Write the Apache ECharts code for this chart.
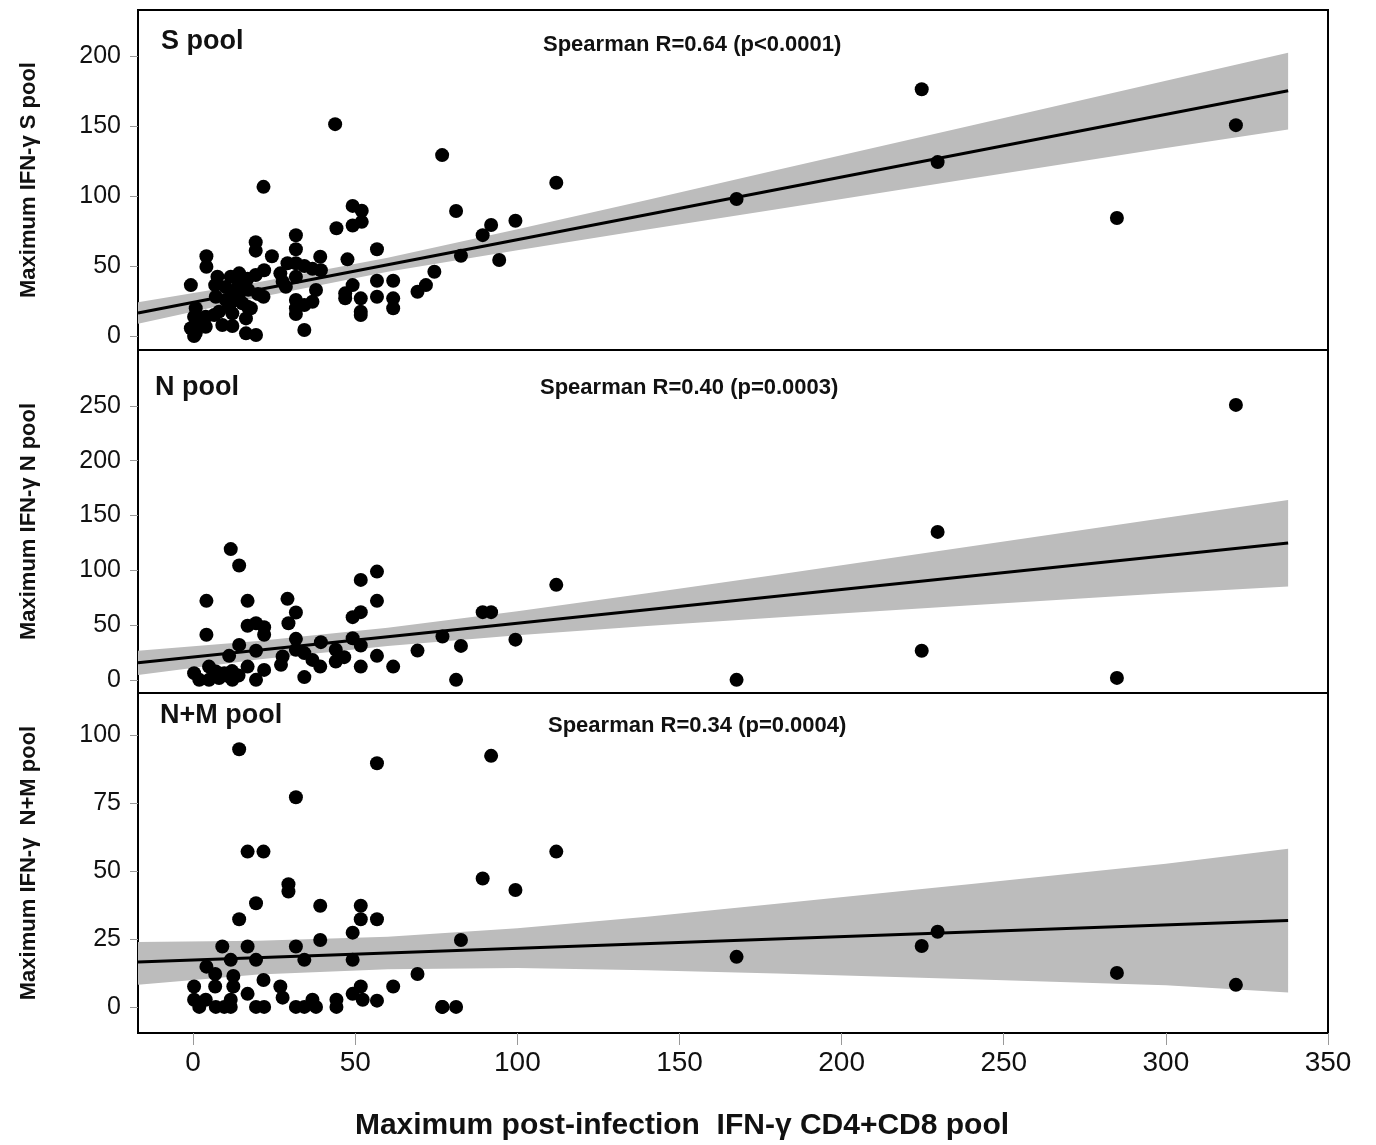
<!DOCTYPE html>
<html>
<head>
<meta charset="utf-8">
<script src="https://cdn.jsdelivr.net/npm/echarts@6/dist/echarts.min.js"></script>
<style>
  html, body { margin: 0; padding: 0; background: #fff; }
  #chart { width: 1376px; height: 1145px; }
</style>
</head>
<body>
<div id="chart"></div>
<script>
// x = max post-infection IFN-γ CD4+CD8 pool, y = max IFN-γ per pool
const sPool = [
  [21.7, 106.6], [49.2, 93], [52, 89.5], [49.2, 79], [52, 81.6], [44.2, 77], [31.7, 72], [19.3, 67],
  [19.3, 61], [31.7, 62], [56.7, 62], [4.1, 57], [4.1, 49.5], [24.3, 57], [39.2, 56.6], [47.6, 54.8],
  [29.1, 52], [31.7, 52], [34.3, 50], [36.8, 48], [39.4, 47], [21.9, 47], [19.3, 43.6], [16.8, 41],
  [14.2, 44.8], [11.6, 42.4], [7.5, 42.4], [6.8, 36.4], [26.9, 44.8], [27.6, 38.8], [28.6, 35.2], [31.7, 42.4],
  [-0.7, 36.4], [49.2, 36.4], [56.7, 39.5], [61.7, 39.5], [69.2, 31.6], [71.8, 36.4], [74.4, 45.9], [37.9, 32.9],
  [46.9, 30.5], [46.9, 26.9], [51.7, 26.9], [56.7, 28.1], [61.7, 26.9], [61.7, 19.8], [51.7, 17.4], [51.7, 15],
  [21.7, 28.1], [31.7, 25.7], [31.7, 19.8], [31.7, 15.7], [34.3, 22.1], [36.8, 24.5], [34.3, 4.3], [7, 28.1],
  [10.1, 25.7], [13.2, 25.7], [15.2, 23.4], [16.8, 20.9], [17.8, 19.8], [11.1, 20.9], [8, 17.4], [6.5, 15],
  [12.1, 16.2], [16.3, 12.6], [3.9, 13.8], [0.8, 19.8], [0.3, 13.8], [-0.7, 5.5], [0.8, 1.9], [1.9, 7.9],
  [3.9, 6.6], [9, 7.9], [12.1, 7.1], [16.3, 1.9], [19.4, 0.7], [0.3, 0], [12, 30], [14, 28], [17, 33],
  [10, 35], [14, 36], [20, 30], [76.8, 129.3], [112, 109.5], [81.1, 89.3], [91.9, 79.3], [89.3, 72.1],
  [99.4, 82.4], [82.6, 57.4], [94.4, 54.3], [43.8, 151.4], [224.7, 176.4], [229.6, 124.3], [167.6, 97.9],
  [284.9, 84.3], [321.6, 150.7]
];
const nPool = [
  [11.6, 119.3], [14.2, 104.3], [4.1, 72.1], [16.8, 72.1], [4.1, 41.1], [29.1, 73.9], [31.7, 61.4], [29.4, 51.7],
  [16.8, 49.3], [19.4, 51.7], [21.9, 48.1], [21.9, 41.1], [51.7, 91.2], [56.7, 98.8], [56.7, 72.1], [49.2, 57.2],
  [51.7, 61.8], [31.7, 37.4], [39.4, 34.4], [49.2, 38], [51.7, 31.3], [14.2, 31.9], [11.1, 21.9], [19.4, 26.5],
  [27.6, 21.3], [27.1, 13.7], [31.7, 27.4], [34.3, 24.4], [36.8, 18.2], [39.2, 12.1], [44, 27.4], [44, 16.7],
  [46.6, 20.7], [56.7, 21.9], [69.2, 26.7], [76.9, 39.5], [16.8, 12.1], [21.9, 9.1], [19.4, 0], [34.3, 2.5],
  [51.7, 12.1], [61.7, 12.1], [0.3, 6.1], [1.9, 0], [4.9, 12.1], [7, 7.6], [9.6, 6.1], [11.1, 3], [12.1, 0],
  [4.9, 0], [8, 1.6], [12, 8], [14, 4], [112, 86.7], [89.3, 61.8], [91.9, 61.8], [82.6, 31], [99.4, 36.7],
  [81.1, 0], [321.6, 250.9], [229.6, 135], [224.7, 26.5], [167.6, 0], [284.9, 1.8]
];
const nmPool = [
  [14.2, 94.7], [31.7, 77.1], [16.8, 57.1], [21.7, 57.1], [29.4, 45.1], [29.4, 42.4], [19.4, 38.1], [39.2, 37.2],
  [51.7, 37.2], [51.7, 32.2], [56.7, 32.2], [56.7, 89.6], [14.2, 32.2], [39.2, 24.6], [49.2, 27.3], [9, 22.2],
  [16.8, 22.2], [31.7, 22.2], [11.6, 17.3], [19.4, 17.3], [34.3, 17.3], [49.2, 17.3], [4.1, 14.8], [6.8, 12.1],
  [12.4, 11.4], [21.7, 9.9], [69.2, 12.1], [0.3, 7.5], [6.8, 7.5], [12.4, 7.5], [26.9, 7.5], [51.7, 7.5],
  [61.7, 7.5], [16.8, 4.8], [27.6, 3.4], [49.2, 4.8], [52.3, 2.6], [56.7, 2.3], [0.3, 2.6], [1.9, 0],
  [3.9, 2.6], [7, 0], [9.6, 0], [11.6, 2.6], [11.6, 0], [19.4, 0], [21.9, 0], [31.7, 0], [34.3, 0],
  [36.8, 2.6], [37.9, 0], [44.2, 2.6], [44.2, 0], [76.9, 0], [91.9, 92.3], [112, 57.1], [89.3, 47.2],
  [99.4, 43], [82.6, 24.6], [76.8, 0], [81.1, 0], [167.6, 18.4], [224.7, 22.4], [229.6, 27.6],
  [284.9, 12.5], [321.6, 8.1]
];

// fitted lines and confidence bands
const regX = [-17, 337.7];
const sRegY = [16.4, 175.3];
const nRegY = [15.5, 124.9];
const nmRegY = [16.5, 31.8];

const bandX = [-17, 20, 60, 100, 140, 180, 240, 300, 337.7];
const sUpper = [24.1, 38.5, 55.9, 76.3, 97.2, 118.6, 150.5, 182.4, 202.4];
const sLower = [8.7, 27.5, 45.9, 61.3, 76.2, 90.6, 112.5, 134.4, 147.6];
const nUpper = [26.5, 35.5, 47.6, 62.7, 79.1, 95.9, 122, 148, 164.2];
const nLower = [4.5, 18.5, 31, 40.7, 49.1, 56.9, 68, 79, 85.1];
const nmUpper = [23.9, 24.3, 25.8, 28.9, 33.1, 37.9, 45.2, 52.6, 58.1];
const nmLower = [8.1, 11.9, 13.8, 14.3, 13.5, 12.3, 10.2, 8, 5.3];

const xTicks = [0, 50, 100, 150, 200, 250, 300, 350];
const sTicks = [0, 50, 100, 150, 200];
const nTicks = [0, 50, 100, 150, 200, 250];
const nmTicks = [0, 25, 50, 75, 100];

const panelNames = ['S pool', 'N pool', 'N+M pool'];
const statTexts = ['Spearman R=0.64 (p<0.0001)', 'Spearman R=0.40 (p=0.0003)', 'Spearman R=0.34 (p=0.0004)'];
const yNames = ['Maximum IFN-γ S pool', 'Maximum IFN-γ N pool', 'Maximum IFN-γ  N+M pool'];
const xName = 'Maximum post-infection  IFN-γ CD4+CD8 pool';

const narrow = '"Liberation Sans Narrow", "Arial Narrow", "Liberation Sans", Arial, sans-serif';
const plain = '"Liberation Sans", Arial, sans-serif';

const chart = echarts.init(document.getElementById('chart'))

const grids = [
  { left: 138, right: 48, top: 10, height: 340 },
  { left: 138, right: 48, top: 350, height: 343 },
  { left: 138, right: 48, top: 693, height: 340 },
].map(g => ({
  ...g, show: true, borderColor: '#000', borderWidth: 2,
  backgroundColor: 'transparent', outerBoundsMode: 'none', containLabel: false
}))

function xAxisFor(i) {
  const last = i === 2
  return {
    type: 'value', gridIndex: i, min: -17, max: 350,
    position: 'bottom',
    splitLine: { show: false },
    axisLine: { show: false, onZero: false },
    axisTick: { show: last, length: 12, customValues: xTicks, lineStyle: { color: '#999' } },
    axisLabel: {
      show: last, customValues: xTicks, margin: 16,
      fontFamily: narrow, fontSize: 28, color: '#111'
    }
  }
}

function yAxisFor(i, min, max, ticks) {
  return {
    type: 'value', gridIndex: i, min, max,
    position: 'left',
    splitLine: { show: false },
    axisLine: { show: false, onZero: false },
    axisTick: { show: true, length: 8, customValues: ticks, lineStyle: { color: '#999' } },
    axisLabel: { customValues: ticks, margin: 17, fontFamily: plain, fontSize: 25, color: '#111' },
    name: yNames[i], nameLocation: 'middle', nameGap: 98, nameRotate: 90,
    nameTextStyle: { fontFamily: narrow, fontSize: 22, fontWeight: 'bold', color: '#111' }
  }
}

function band(i, upper, lower) {
  return {
    type: 'custom', xAxisIndex: i, yAxisIndex: i, silent: true, z: 1,
    data: [[bandX[0], lower[0]]],
    renderItem: (params, api) => {
      const pts = []
      bandX.forEach((x, k) => pts.push(api.coord([x, upper[k]])))
      for (let k = bandX.length - 1; k >= 0; k--) pts.push(api.coord([bandX[k], lower[k]]))
      return { type: 'polygon', shape: { points: pts }, style: { fill: '#bcbcbc' } }
    }
  }
}

function regLine(i, ys) {
  return {
    type: 'line', xAxisIndex: i, yAxisIndex: i, z: 2, silent: true,
    symbol: 'none', data: regX.map((x, k) => [x, ys[k]]),
    lineStyle: { color: '#000', width: 3 }
  }
}

function dots(i, data) {
  return {
    type: 'scatter', xAxisIndex: i, yAxisIndex: i, z: 3,
    symbolSize: 14, data, itemStyle: { color: '#000', opacity: 1 }
  }
}

const titlePos = [
  { name: [156, 23], stat: [538, 29] },
  { name: [150, 369], stat: [535, 372] },
  { name: [155, 697], stat: [543, 710] },
]

const option = {
  animation: false,
  backgroundColor: '#fff',
  title: [
    ...panelNames.map((t, i) => ({
      text: t, left: titlePos[i].name[0], top: titlePos[i].name[1],
      textStyle: { fontFamily: narrow, fontSize: 27, fontWeight: 'bold', color: '#111' }
    })),
    ...statTexts.map((t, i) => ({
      text: t, left: titlePos[i].stat[0], top: titlePos[i].stat[1],
      textStyle: { fontFamily: narrow, fontSize: 22, fontWeight: 'bold', color: '#111' }
    })),
  ],
  graphic: [{
    type: 'text', x: 682, y: 1111,
    style: {
      text: xName, textAlign: 'center',
      font: 'bold 30px ' + narrow, fill: '#111'
    }
  }],
  grid: grids,
  xAxis: [xAxisFor(0), xAxisFor(1), xAxisFor(2)],
  yAxis: [
    yAxisFor(0, -10, 233, sTicks),
    yAxisFor(1, -12, 301, nTicks),
    yAxisFor(2, -9.6, 115.4, nmTicks),
  ],
  series: [
    band(0, sUpper, sLower), regLine(0, sRegY), dots(0, sPool),
    band(1, nUpper, nLower), regLine(1, nRegY), dots(1, nPool),
    band(2, nmUpper, nmLower), regLine(2, nmRegY), dots(2, nmPool),
  ]
}

chart.setOption(option)
</script>
</body>
</html>
